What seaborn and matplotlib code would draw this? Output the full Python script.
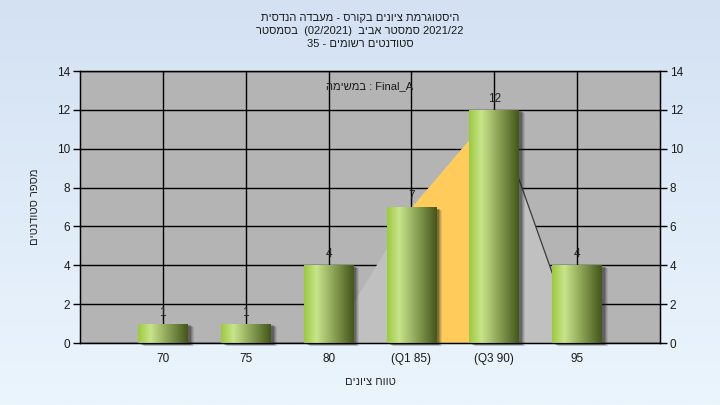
import numpy as np
import pandas as pd
import matplotlib
matplotlib.use('Agg')
import matplotlib.pyplot as plt
import matplotlib.transforms as mtransforms
from matplotlib.colors import LinearSegmentedColormap
from matplotlib.patches import Rectangle
import seaborn as sns

# data
grades = [70, 75, 80, 85, 90, 95]
tick_labels = ['70', '75', '80', '(Q1 85)', '(Q3 90)', '95']
counts = [1, 1, 4, 7, 12, 4]
poly_x = [80, 85, 90, 95]
poly_y = [0, 7, 12, 0]

def rev(s):
    # matplotlib has no bidi, so hebrew goes in visual order
    return s[::-1]

title_lines = [
    rev('היסטוגרמת ציונים בקורס - מעבדה הנדסית'),
    rev('בסמסטר') + '  (02/2021)  ' + rev('סמסטר אביב') + ' 2021/22',
    '35 - ' + rev('סטודנטים רשומים'),
]
task_label = rev('במשימה') + ' : Final_A'
x_title = rev('טווח ציונים')
y_title = rev('מספר סטודנטים')

sns.set_style('white')
plt.rcParams['font.family'] = ['Liberation Sans', 'DejaVu Sans']

df = pd.DataFrame({'grade': grades, 'count': counts})

fig = plt.figure(figsize=(7.2, 4.05), dpi=100)

# light blue page gradient
bg = fig.add_axes([0, 0, 1, 1], zorder=-10)
bg_cmap = LinearSegmentedColormap.from_list('bg', ['#d3e1f3', '#ebf5fd'])
bg.imshow(np.linspace(0, 1, 256).reshape(-1, 1), aspect='auto', cmap=bg_cmap,
          extent=[0, 1, 0, 1])
bg.axis('off')

ax = fig.add_axes([80 / 720, 1 - 343 / 405, 580 / 720, 272 / 405])
ax.set_facecolor('#b4b4b4')

sns.barplot(data=df, x='grade', y='count', native_scale=True, width=0.6,
            color='#9acb3c', ax=ax, zorder=3, linewidth=0)

# frequency polygon behind the bars
ax.fill_between(poly_x, poly_y, color='#c0c0c0', zorder=1, linewidth=0)
ax.fill_between(poly_x[1:3], poly_y[1:3], color='#ffcc5c', zorder=1.1, linewidth=0)
ax.plot(poly_x[2:], poly_y[2:], color='#3a3a3a', lw=0.9, zorder=1.2)

bar_cmap = LinearSegmentedColormap.from_list(
    'bar', [(0, '#9ccb3e'), (0.25, '#c8e48c'), (0.55, '#93ab5c'), (1, '#44561a')])
grad = np.linspace(0, 1, 256).reshape(1, -1)

for p in list(ax.patches):
    x0, y0 = p.get_x(), p.get_y()
    w, h = p.get_width(), p.get_height()
    # soft drop shadow, mostly to the right
    for i, a in enumerate([0.10, 0.14, 0.20, 0.28]):
        off = mtransforms.offset_copy(ax.transData, fig=fig, x=6 - i, y=-3 + i * 0.5,
                                      units='dots')
        ax.add_patch(Rectangle((x0, y0), w, h, transform=off, facecolor='#202020',
                               alpha=a, linewidth=0, zorder=2, clip_on=False))
    im = ax.imshow(grad, aspect='auto', cmap=bar_cmap, extent=[x0, x0 + w, y0, y0 + h],
                   zorder=3.5, interpolation='bilinear')
    im.set_clip_path(p)
    p.set_facecolor('none')
    ax.text(x0 + w / 2, y0 + h + 0.25, str(int(round(h))), ha='center', va='bottom',
            fontsize=8.5, color='#202020', zorder=5)

ax.set_xlim(65, 100)
ax.set_ylim(0, 14)
ax.set_xticks(grades)
ax.set_xticklabels(tick_labels)
ax.set_yticks(range(0, 15, 2))
ax.grid(True, color='black', lw=1, zorder=0)
ax.set_axisbelow(True)
for s in ax.spines.values():
    s.set_color('black')
    s.set_linewidth(1)
ax.tick_params(direction='out', length=5, width=1, color='black', labelsize=8.5,
               labelcolor='#1a1a1a', pad=2)
ax.set_xlabel(x_title, fontsize=8, labelpad=9)
ax.set_ylabel(y_title, fontsize=8, labelpad=12)

ax2 = ax.twinx()
ax2.set_ylim(0, 14)
ax2.set_yticks(range(0, 15, 2))
ax2.tick_params(direction='out', length=5, width=1, color='black', labelsize=8.5,
                labelcolor='#1a1a1a', pad=2)
for s in ax2.spines.values():
    s.set_color('black')

ax.text(0.5, 0.945, task_label, transform=ax.transAxes, ha='center', va='center',
        fontsize=8, color='#1a1a1a', zorder=6)

for i, line in enumerate(title_lines):
    fig.text(0.5, 1 - (18 + 13 * i) / 405, line, ha='center', va='center',
             fontsize=8, color='#1a1a1a')

fig.savefig('out.png', dpi=100)
